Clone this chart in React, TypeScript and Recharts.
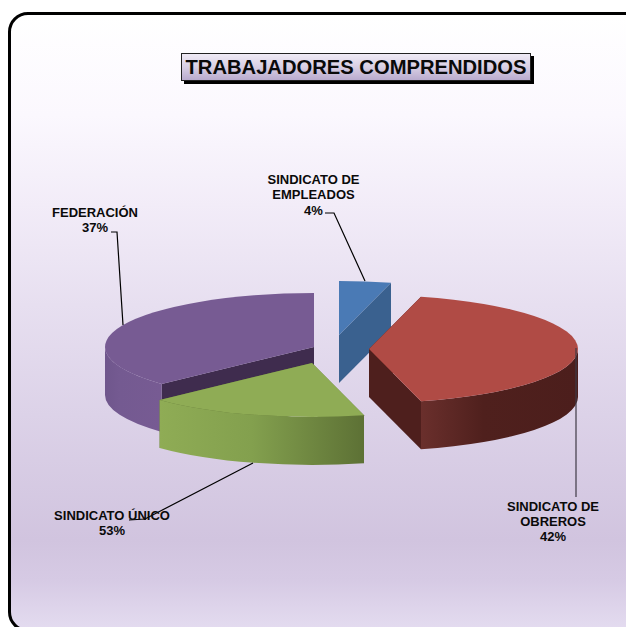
import { PieChart, Pie } from 'recharts'

const categories = ['FEDERACIÓN', 'SINDICATO DE EMPLEADOS', 'SINDICATO DE OBREROS', 'SINDICATO ÚNICO']
const sliceValues = [37, 4, 42, 17]
const percentLabels = ['37%', '4%', '42%', '53%']

const data = categories.map((name, i) => ({ name, value: sliceValues[i], percentLabel: percentLabels[i] }))

const CENTER_X = 333
const CENTER_Y = 350
const RADIUS = 209
const TILT = 0.258
const DEPTH = 48
// the first slice drawn is the purple one so it ends up behind the green one
const START_ANGLE = -136.8

const styles: Record<string, any> = {
  'FEDERACIÓN': {
    top: '#775b93', side: 'url(#sidePurple)', inner: '#3f2c4e', dx: -19, dy: -3,
    lines: ['FEDERACIÓN'], textX: 95, textY: 216.5,
    leader: [[111, 232], [117, 232], [123, 325]], leaderColor: '#000',
  },
  'SINDICATO DE EMPLEADOS': {
    top: '#4a7ab5', side: '#3a618f', inner: '#3a618f', dx: 6, dy: -15,
    lines: ['SINDICATO DE', 'EMPLEADOS'], textX: 313.5, textY: 184,
    leader: [[325, 213], [334, 213], [365, 281]], leaderColor: '#000',
  },
  'SINDICATO DE OBREROS': {
    top: '#b04b45', side: 'url(#sideRed)', inner: '#4e1f1d', dx: 36, dy: -1,
    lines: ['SINDICATO DE', 'OBREROS'], textX: 553, textY: 510.5,
    leader: [[576, 348], [576, 497]], leaderColor: '#3f3a45',
  },
  'SINDICATO ÚNICO': {
    top: '#8fac55', side: 'url(#sideGreen)', inner: '#5d7135', dx: -21, dy: 13,
    lines: ['SINDICATO ÚNICO'], textX: 112, textY: 520,
    leader: [[253, 463], [145, 519], [129, 520]], leaderColor: '#000',
  },
}

function rimPoint(cx: number, cy: number, rx: number, ry: number, deg: number) {
  const a = (deg * Math.PI) / 180
  return [cx + rx * Math.cos(a), cy - ry * Math.sin(a)]
}

// front part of the rim: the angles of the slice that lie in the lower half of the ellipse
function frontRange(lo: number, hi: number) {
  for (let k = -2; k <= 1; k++) {
    const from = Math.max(lo, 180 + 360 * k)
    const to = Math.min(hi, 360 + 360 * k)
    if (to > from) return [from, to]
  }
  return null
}

function Slice3D(props: any) {
  const { cx, cy, outerRadius, startAngle, endAngle, name } = props
  const s = styles[name]
  const x0 = cx + s.dx
  const y0 = cy + s.dy
  const rx = outerRadius
  const ry = outerRadius * TILT
  const lo = Math.min(startAngle, endAngle)
  const hi = Math.max(startAngle, endAngle)
  const pA = rimPoint(x0, y0, rx, ry, lo)
  const pB = rimPoint(x0, y0, rx, ry, hi)
  const large = hi - lo > 180 ? 1 : 0

  const topPath = `M${x0},${y0} L${pA[0]},${pA[1]} A${rx},${ry} 0 ${large} 0 ${pB[0]},${pB[1]} Z`
  const face = (p: number[]) =>
    `M${x0},${y0} L${p[0]},${p[1]} L${p[0]},${p[1] + DEPTH} L${x0},${y0 + DEPTH} Z`

  const front = frontRange(lo, hi)
  let sidePath = ''
  if (front) {
    const f0 = rimPoint(x0, y0, rx, ry, front[0])
    const f1 = rimPoint(x0, y0, rx, ry, front[1])
    sidePath =
      `M${f0[0]},${f0[1]} A${rx},${ry} 0 0 0 ${f1[0]},${f1[1]} ` +
      `L${f1[0]},${f1[1] + DEPTH} A${rx},${ry} 0 0 1 ${f0[0]},${f0[1] + DEPTH} Z`
  }

  return (
    <g>
      <path d={face(pA)} fill={s.inner} />
      <path d={face(pB)} fill={s.inner} />
      {sidePath && <path d={sidePath} fill={s.side} />}
      <path d={topPath} fill={s.top} />
    </g>
  )
}

function SliceLabel(props: any) {
  const s = styles[props.name]
  const lines = [...s.lines, props.percentLabel]
  return (
    <g>
      <polyline
        points={s.leader.map((p: number[]) => p.join(',')).join(' ')}
        fill="none"
        stroke={s.leaderColor}
        strokeWidth={1.2}
      />
      <text
        x={s.textX}
        y={s.textY}
        textAnchor="middle"
        fontFamily="'Liberation Sans', Arial, sans-serif"
        fontWeight="bold"
        fontSize={13}
        fill="#0a0a0a"
      >
        {lines.map((line: string, i: number) => (
          <tspan key={i} x={s.textX} dy={i === 0 ? 0 : 15.3}>
            {line}
          </tspan>
        ))}
      </text>
    </g>
  )
}

export default function App() {
  return (
    <div style={{ position: 'absolute', left: 0, top: 0, width: 626, height: 627, overflow: 'hidden', background: '#fff' }}>
      <div
        style={{
          position: 'absolute',
          left: 8,
          top: 12,
          width: 640,
          height: 620,
          boxSizing: 'border-box',
          border: '3px solid #000',
          borderRadius: 20,
          background:
            'linear-gradient(180deg, #ffffff 0px, #fbf8fe 100px, #f2ecf8 190px, #e7dff0 290px, #dcd2e8 400px, #d1c4df 525px, #d6cae4 565px, #e4dcf0 615px)',
        }}
      />
      <div
        style={{
          position: 'absolute',
          left: 181,
          top: 53,
          width: 350,
          height: 28,
          boxSizing: 'border-box',
          border: '1px solid #222',
          boxShadow: '3px 3px 0 #000',
          background: 'linear-gradient(180deg, #efeaf5 0%, #d8cfe4 50%, #b9abce 100%)',
          fontFamily: "'Liberation Sans', Arial, sans-serif",
          fontWeight: 'bold',
          fontSize: 20.2,
          lineHeight: '26px',
          textAlign: 'center',
          color: '#0a0a0a',
          whiteSpace: 'nowrap',
        }}
      >
        TRABAJADORES COMPRENDIDOS
      </div>
      <div style={{ position: 'absolute', left: 0, top: 0 }}>
        <PieChart width={626} height={627} margin={{ top: 0, right: 0, bottom: 0, left: 0 }}>
          <defs>
            <linearGradient id="sidePurple" x1="0" y1="0" x2="1" y2="0">
              <stop offset="0%" stopColor="#6f568c" />
              <stop offset="25%" stopColor="#745a91" />
              <stop offset="100%" stopColor="#775b93" />
            </linearGradient>
            <linearGradient id="sideRed" x1="0" y1="0" x2="1" y2="0">
              <stop offset="0%" stopColor="#6a2f2c" />
              <stop offset="40%" stopColor="#4f201d" />
              <stop offset="100%" stopColor="#4c1e1c" />
            </linearGradient>
            <linearGradient id="sideGreen" x1="0" y1="0" x2="1" y2="0">
              <stop offset="0%" stopColor="#8fac55" />
              <stop offset="45%" stopColor="#83a04e" />
              <stop offset="100%" stopColor="#5d7135" />
            </linearGradient>
          </defs>
          <Pie
            data={data}
            dataKey="value"
            nameKey="name"
            cx={CENTER_X}
            cy={CENTER_Y}
            innerRadius={0}
            outerRadius={RADIUS}
            startAngle={START_ANGLE}
            endAngle={START_ANGLE - 360}
            paddingAngle={0}
            stroke="none"
            isAnimationActive={false}
            shape={Slice3D}
            activeShape={Slice3D}
            label={SliceLabel}
            labelLine={false}
          />
        </PieChart>
      </div>
    </div>
  )
}
